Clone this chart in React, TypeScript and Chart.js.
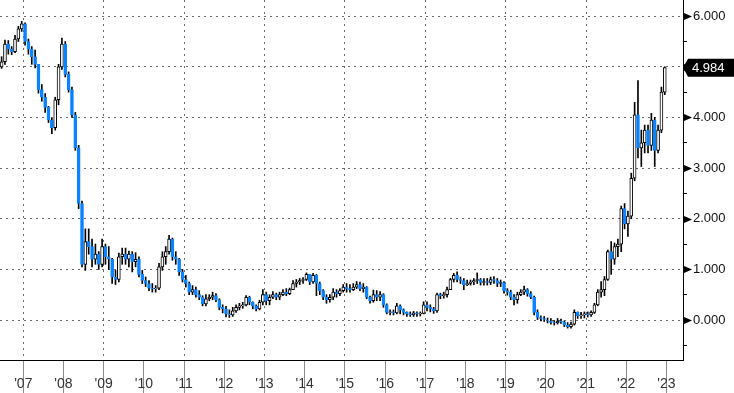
import React, { useEffect, useRef } from 'react';
import { Chart, registerables } from 'chart.js';

Chart.register(...registerables);

// First candle: December 2006 (monthly candles)
const START_YEAR = 2006;
const START_MONTH = 11;

const openVals = [
  5.0,
  5.1, 5.45, 5.35, 5.3, 5.55, 5.75, 5.85, 5.5, 5.35, 5.2, 5.05, 4.55,
  4.4, 4.2, 3.95, 3.8, 4.35, 5.0, 5.45, 4.85, 4.55, 4.05, 3.4, 2.3,
  1.1, 1.55, 1.45, 1.2, 1.3, 1.1, 1.45, 1.25, 1.2, 0.85, 0.8, 1.25,
  1.3, 1.2, 1.3, 1.15, 1.2, 0.9, 0.78, 0.72, 0.63, 0.62, 0.63, 1.05,
  1.25, 1.35, 1.6, 1.25, 1.2, 0.95, 0.8, 0.72, 0.55, 0.6, 0.5, 0.45,
  0.32, 0.42, 0.45, 0.48, 0.4, 0.25, 0.22, 0.12, 0.1, 0.18, 0.25, 0.28,
  0.3, 0.45, 0.35, 0.28, 0.22, 0.35, 0.5, 0.38, 0.45, 0.5, 0.45, 0.5,
  0.55, 0.52, 0.6, 0.72, 0.75, 0.78, 0.8, 0.9, 0.75, 0.88, 0.72, 0.58,
  0.45, 0.4, 0.45, 0.55, 0.52, 0.58, 0.65, 0.62, 0.6, 0.65, 0.7, 0.62,
  0.65, 0.45, 0.38, 0.5, 0.45, 0.5, 0.3, 0.15, 0.16, 0.14, 0.28, 0.2,
  0.15, 0.12, 0.1, 0.14, 0.12, 0.13, 0.3, 0.25, 0.22, 0.18, 0.5, 0.48,
  0.5, 0.6, 0.8, 0.88, 0.8, 0.78, 0.7, 0.72, 0.75, 0.78, 0.8, 0.74,
  0.76, 0.74, 0.8, 0.78, 0.72, 0.74, 0.58, 0.55, 0.45, 0.4, 0.5, 0.55,
  0.6, 0.52, 0.45, 0.15, 0.05, 0.03, 0.0, -0.02, -0.05, -0.06, -0.02, -0.04,
  -0.1, -0.13, -0.08, 0.15, 0.08, 0.1, 0.12, 0.1, 0.15, 0.3, 0.55, 0.6,
  0.8, 1.35, 1.2, 1.45, 1.5, 2.2, 1.9, 2.05, 2.8, 4.05, 3.4, 3.5,
  3.75, 3.45, 3.95, 3.35, 3.75, 4.5,
];

const highVals = [
  5.2,
  5.53, 5.52, 5.4, 5.62, 5.8, 5.9, 5.87, 5.55, 5.4, 5.33, 5.05, 4.65,
  4.47, 4.22, 4.0, 4.4, 5.05, 5.57, 5.5, 4.9, 4.6, 4.1, 3.45, 2.35,
  1.8, 1.8, 1.6, 1.5, 1.35, 1.6, 1.5, 1.45, 1.22, 0.98, 1.32, 1.42,
  1.42, 1.36, 1.35, 1.33, 1.25, 0.98, 0.85, 0.78, 0.72, 0.68, 1.12, 1.35,
  1.45, 1.67, 1.62, 1.35, 1.22, 1.0, 0.88, 0.75, 0.68, 0.65, 0.58, 0.48,
  0.5, 0.5, 0.55, 0.52, 0.42, 0.3, 0.27, 0.2, 0.25, 0.3, 0.33, 0.35,
  0.48, 0.47, 0.36, 0.3, 0.39, 0.6, 0.55, 0.5, 0.56, 0.53, 0.55, 0.6,
  0.62, 0.63, 0.78, 0.8, 0.82, 0.84, 0.93, 0.9, 0.92, 0.9, 0.75, 0.6,
  0.5, 0.5, 0.62, 0.6, 0.62, 0.7, 0.72, 0.7, 0.72, 0.76, 0.75, 0.72,
  0.66, 0.47, 0.59, 0.58, 0.56, 0.52, 0.32, 0.2, 0.2, 0.33, 0.3, 0.22,
  0.16, 0.16, 0.17, 0.16, 0.16, 0.36, 0.36, 0.3, 0.25, 0.53, 0.53, 0.55,
  0.65, 0.82, 0.92, 0.95, 0.85, 0.82, 0.79, 0.79, 0.82, 0.93, 0.82, 0.82,
  0.82, 0.85, 0.86, 0.82, 0.79, 0.76, 0.62, 0.59, 0.5, 0.55, 0.6, 0.67,
  0.62, 0.56, 0.47, 0.2, 0.08, 0.07, 0.04, 0.03, 0.0, 0.03, 0.02, -0.02,
  -0.05, -0.04, 0.2, 0.16, 0.15, 0.16, 0.16, 0.18, 0.33, 0.6, 0.76, 0.86,
  1.38, 1.55, 1.52, 1.6, 2.25, 2.3, 2.15, 2.9, 4.3, 4.73, 3.75, 3.85,
  3.85, 4.08, 4.0, 3.85, 4.6, 5.0,
];

const lowVals = [
  4.97,
  5.05, 5.25, 5.24, 5.28, 5.5, 5.7, 5.43, 5.25, 5.05, 4.98, 4.48, 4.32,
  4.1, 3.9, 3.68, 3.75, 4.25, 4.95, 4.8, 4.5, 4.0, 3.35, 2.2, 1.05,
  0.98, 1.3, 1.05, 1.1, 1.0, 1.05, 1.1, 1.0, 0.72, 0.7, 0.75, 1.1,
  1.1, 1.05, 0.95, 1.05, 0.85, 0.72, 0.66, 0.58, 0.55, 0.55, 0.6, 0.98,
  1.1, 1.3, 1.18, 1.1, 0.88, 0.75, 0.65, 0.5, 0.5, 0.45, 0.4, 0.28,
  0.28, 0.38, 0.4, 0.36, 0.2, 0.14, 0.06, 0.05, 0.07, 0.15, 0.2, 0.23,
  0.28, 0.3, 0.22, 0.18, 0.2, 0.3, 0.3, 0.3, 0.42, 0.4, 0.4, 0.48,
  0.48, 0.5, 0.6, 0.65, 0.7, 0.72, 0.78, 0.7, 0.72, 0.48, 0.5, 0.4,
  0.33, 0.35, 0.4, 0.45, 0.48, 0.55, 0.55, 0.55, 0.58, 0.62, 0.58, 0.55,
  0.42, 0.33, 0.35, 0.38, 0.38, 0.25, 0.12, 0.1, 0.1, 0.12, 0.12, 0.1,
  0.07, 0.07, 0.07, 0.07, 0.08, 0.12, 0.18, 0.16, 0.13, 0.15, 0.42, 0.43,
  0.45, 0.6, 0.75, 0.75, 0.72, 0.6, 0.68, 0.69, 0.7, 0.72, 0.69, 0.69,
  0.69, 0.7, 0.72, 0.66, 0.66, 0.53, 0.49, 0.4, 0.3, 0.33, 0.48, 0.5,
  0.47, 0.42, 0.1, 0.0, -0.02, -0.03, -0.06, -0.08, -0.1, -0.08, -0.07, -0.13,
  -0.16, -0.16, -0.1, 0.03, 0.03, 0.04, 0.06, 0.07, 0.13, 0.28, 0.45, 0.48,
  0.78, 0.9, 1.1, 1.25, 1.35, 1.8, 1.65, 2.0, 2.75, 3.2, 3.03, 3.3,
  3.3, 3.35, 3.03, 3.3, 3.7, 4.45,
];

const closeVals = [
  5.1,
  5.45, 5.35, 5.3, 5.55, 5.75, 5.85, 5.5, 5.35, 5.2, 5.05, 4.55, 4.4,
  4.2, 3.95, 3.8, 4.35, 5.0, 5.45, 4.85, 4.55, 4.05, 3.4, 2.3, 1.1,
  1.55, 1.45, 1.2, 1.3, 1.1, 1.45, 1.25, 1.2, 0.85, 0.8, 1.25, 1.3,
  1.2, 1.3, 1.15, 1.2, 0.9, 0.78, 0.72, 0.63, 0.62, 0.63, 1.05, 1.25,
  1.35, 1.6, 1.25, 1.2, 0.95, 0.8, 0.72, 0.55, 0.6, 0.5, 0.45, 0.32,
  0.42, 0.45, 0.48, 0.4, 0.25, 0.22, 0.12, 0.1, 0.18, 0.25, 0.28, 0.3,
  0.45, 0.35, 0.28, 0.22, 0.35, 0.5, 0.38, 0.45, 0.5, 0.45, 0.5, 0.55,
  0.52, 0.6, 0.72, 0.75, 0.78, 0.8, 0.9, 0.75, 0.88, 0.72, 0.58, 0.45,
  0.4, 0.45, 0.55, 0.52, 0.58, 0.65, 0.62, 0.6, 0.65, 0.7, 0.62, 0.65,
  0.45, 0.38, 0.5, 0.45, 0.5, 0.3, 0.15, 0.16, 0.14, 0.28, 0.2, 0.15,
  0.12, 0.1, 0.14, 0.12, 0.13, 0.3, 0.25, 0.22, 0.18, 0.5, 0.48, 0.5,
  0.6, 0.8, 0.88, 0.8, 0.78, 0.7, 0.72, 0.75, 0.78, 0.8, 0.74, 0.76,
  0.74, 0.8, 0.78, 0.72, 0.74, 0.58, 0.55, 0.45, 0.4, 0.5, 0.55, 0.6,
  0.52, 0.45, 0.15, 0.05, 0.03, 0.0, -0.02, -0.05, -0.06, -0.02, -0.04, -0.1,
  -0.13, -0.08, 0.15, 0.08, 0.1, 0.12, 0.1, 0.15, 0.3, 0.55, 0.6, 0.8,
  1.35, 1.2, 1.45, 1.5, 2.2, 1.9, 2.05, 2.8, 4.05, 3.4, 3.5, 3.75,
  3.45, 3.95, 3.35, 3.75, 4.5, 4.984,
];

const yearTicks = [2007, 2008, 2009, 2010, 2011, 2012, 2013, 2014, 2015, 2016, 2017, 2018, 2019, 2020, 2021, 2022, 2023];
const yTickValues = [-0.5, 0, 0.5, 1, 1.5, 2, 2.5, 3, 3.5, 4, 4.5, 5, 5.5, 6];
const lastValueLabel = '4.984';

const X_MIN = 2006.918;
const X_MAX = 2023.912;
const Y_MIN = -0.79;
const Y_MAX = 6.32;

const BLUE = '#0a84ff';
const GRID = '#6a6a6a';
const FONT = '"Liberation Sans", Arial, sans-serif';

const monthPos = (i: number) => START_YEAR + (START_MONTH + i + 0.5) / 12;

const markersPlugin = {
  id: 'bbgMarkers',
  afterDraw(chart: any) {
    const { ctx } = chart;
    const y = chart.scales.y;
    const left = y.left;
    ctx.save();
    // triangle markers at major ticks
    ctx.fillStyle = '#000';
    yTickValues.forEach((v) => {
      if (v % 1 !== 0) return;
      const py = Math.round(y.getPixelForValue(v)) + 0.5;
      ctx.beginPath();
      ctx.moveTo(left + 1, py - 3.5);
      ctx.lineTo(left + 9, py);
      ctx.lineTo(left + 1, py + 3.5);
      ctx.closePath();
      ctx.fill();
    });
    // last value box
    const last = closeVals[closeVals.length - 1];
    const py = y.getPixelForValue(last);
    ctx.beginPath();
    ctx.moveTo(left, py);
    ctx.lineTo(left + 5, py - 9);
    ctx.lineTo(chart.width, py - 9);
    ctx.lineTo(chart.width, py + 9);
    ctx.lineTo(left + 5, py + 9);
    ctx.closePath();
    ctx.fillStyle = '#000';
    ctx.fill();
    ctx.fillStyle = '#fff';
    ctx.font = `13px ${FONT}`;
    ctx.textBaseline = 'middle';
    ctx.textAlign = 'left';
    ctx.fillText(lastValueLabel, left + 9, py + 1);
    ctx.restore();
  },
};

export default function App() {
  const canvasRef = useRef<HTMLCanvasElement | null>(null);

  useEffect(() => {
    document.body.style.margin = '0';
    const canvas = canvasRef.current;
    if (!canvas) return;

    const wicks = closeVals.map((_, i) => ({ x: monthPos(i), y: [lowVals[i], highVals[i]] }));
    const bodies = closeVals.map((c, i) => ({ x: monthPos(i), y: [openVals[i], c] }));
    const isUp = (i: number) => closeVals[i] >= openVals[i];

    const chart = new Chart(canvas, {
      type: 'bar',
      data: {
        datasets: [
          {
            label: 'wick',
            data: wicks as any,
            backgroundColor: '#000',
            borderWidth: 0,
            barThickness: 1,
            grouped: false,
            order: 2,
          } as any,
          {
            label: 'body',
            data: bodies as any,
            backgroundColor: (ctx: any) => (isUp(ctx.dataIndex) ? '#ffffff' : BLUE),
            borderColor: (ctx: any) => (isUp(ctx.dataIndex) ? '#000000' : BLUE),
            borderWidth: 1,
            borderSkipped: false,
            barThickness: 3,
            grouped: false,
            order: 1,
          } as any,
        ],
      },
      options: {
        animation: false,
        responsive: false,
        events: [],
        layout: { padding: 0, autoPadding: false },
        plugins: { legend: { display: false }, tooltip: { enabled: false } },
        scales: {
          x: {
            type: 'linear',
            position: 'bottom',
            min: X_MIN,
            max: X_MAX,
            offset: false,
            afterBuildTicks: (s: any) => {
              s.ticks = yearTicks.map((v) => ({ value: v }));
            },
            afterFit: (s: any) => {
              s.height = 33;
              s.paddingLeft = 0;
              s.paddingRight = 0;
            },
            grid: {
              color: (ctx: any) => (ctx.tick && ctx.tick.value % 2 === 0 ? GRID : 'rgba(0,0,0,0)'),
              lineWidth: 1,
              tickColor: '#8c8c8c',
              tickLength: 33,
              tickBorderDash: [],
              drawTicks: true,
            },
            border: { display: true, color: '#000', width: 1, dash: [2, 4] },
            ticks: {
              autoSkip: false,
              maxRotation: 0,
              minRotation: 0,
              labelOffset: 20,
              padding: -17,
              color: '#333',
              font: { family: FONT, size: 14 },
              callback: (v: any) => "'" + String(v).slice(2),
            },
          } as any,
          y: {
            type: 'linear',
            position: 'right',
            min: Y_MIN,
            max: Y_MAX,
            afterBuildTicks: (s: any) => {
              s.ticks = yTickValues.map((v) => ({ value: v }));
            },
            afterFit: (s: any) => {
              s.width = 51;
              s.paddingTop = 0;
              s.paddingBottom = 0;
            },
            grid: {
              color: (ctx: any) => (ctx.tick && ctx.tick.value % 1 === 0 ? GRID : 'rgba(0,0,0,0)'),
              lineWidth: 1,
              tickColor: '#000',
              tickLength: 4,
              tickBorderDash: [],
            },
            border: { display: true, color: '#000', width: 1, dash: [2, 4] },
            ticks: {
              autoSkip: false,
              padding: 6,
              color: '#111',
              font: { family: FONT, size: 13 },
              callback: (v: any) => (Number(v) % 1 === 0 ? Number(v).toFixed(3) : ''),
            },
          } as any,
        },
      },
      plugins: [markersPlugin],
    });

    return () => chart.destroy();
  }, []);

  return (
    <div style={{ width: 734, height: 393, background: '#fff' }}>
      <canvas ref={canvasRef} width={734} height={393} />
    </div>
  );
}
